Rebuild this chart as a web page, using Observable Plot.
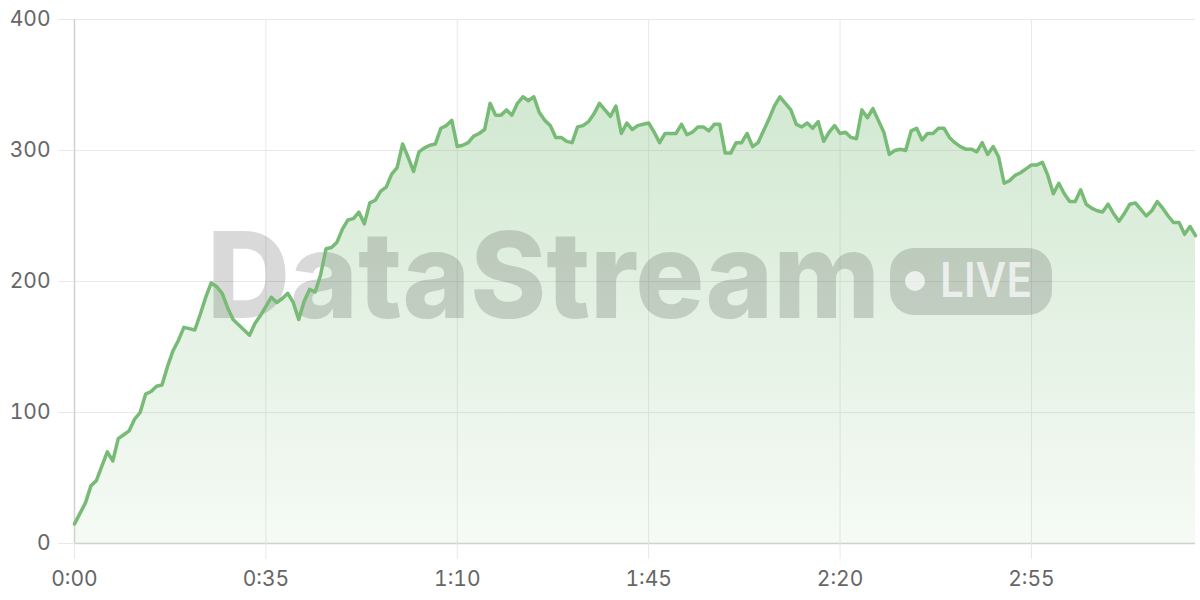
<!DOCTYPE html>
<html>
<head>
<meta charset="utf-8">
<script src="https://cdn.jsdelivr.net/npm/d3@7"></script>
<script src="https://cdn.jsdelivr.net/npm/@observablehq/plot@0.6"></script>
<style>
  html, body { margin: 0; padding: 0; background: #ffffff; }
  #chart { width: 1200px; height: 600px; }
</style>
</head>
<body>
<div id="chart"></div>
<script>
// Values per second (t = index, 0..205)
const values = [
  15, 23, 31, 44, 48, 59, 70, 63, 80, 83,
  86, 95, 100, 114, 116, 120, 121, 135, 147, 155,
  165, 164, 163, 175, 188, 199, 196, 191, 180, 171,
  167, 163, 159, 168, 174, 181, 188, 184, 187, 191,
  184, 171, 185, 194, 192, 205, 225, 226, 230, 240,
  247, 248, 253, 244, 260, 262, 269, 272, 282, 287,
  305, 295, 284, 299, 302, 304, 305, 317, 319, 323,
  303, 304, 306, 311, 313, 316, 336, 327, 327, 331,
  327, 336, 341, 338, 341, 329, 323, 319, 310, 310,
  307, 306, 318, 319, 322, 328, 336, 331, 326, 334,
  313, 321, 316, 319, 320, 321, 314, 306, 313, 313,
  313, 320, 312, 314, 318, 318, 315, 320, 320, 298,
  298, 306, 306, 313, 303, 306, 315, 324, 334, 341,
  336, 331, 320, 318, 321, 317, 322, 307, 314, 319,
  313, 314, 310, 309, 331, 325, 332, 323, 314, 297,
  300, 301, 300, 315, 317, 308, 313, 313, 317, 317,
  310, 306, 303, 301, 301, 299, 306, 297, 303, 295,
  275, 277, 281, 283, 286, 289, 289, 291, 281, 267,
  275, 267, 261, 261, 270, 259, 256, 254, 253, 259,
  252, 246, 252, 259, 260, 255, 250, 254, 261, 256,
  250, 245, 245, 236, 242, 235
];
const xTicks = [0, 35, 70, 105, 140, 175];
const xTickLabels = ["0:00", "0:35", "1:10", "1:45", "2:20", "2:55"];
const yTicks = [0, 100, 200, 300, 400];
const watermarkTitle = "DataStream";
const watermarkBadge = "LIVE";

const data = values.map((v, i) => ({t: i, v}));

const lineColor = "#78bb76";
const fontFamily = "Inter, 'Noto Sans', sans-serif";

const defs = () => {
  const g = d3.create("svg:defs");
  const grad = g.append("linearGradient")
    .attr("id", "areaGrad").attr("x1", 0).attr("y1", 0).attr("x2", 0).attr("y2", 1);
  grad.append("stop").attr("offset", "0%").attr("stop-color", lineColor).attr("stop-opacity", 0.33);
  grad.append("stop").attr("offset", "100%").attr("stop-color", lineColor).attr("stop-opacity", 0.07);
  return g.node();
};

const watermark = () => {
  const g = d3.create("svg:g").attr("pointer-events", "none").attr("text-anchor", "start");
  g.append("text")
    .attr("x", 207).attr("y", 318)
    .attr("text-anchor", "start")
    .attr("font-family", "Inter, sans-serif")
    .attr("font-weight", 800)
    .attr("font-size", 120)
    .attr("textLength", 673)
    .attr("lengthAdjust", "spacingAndGlyphs")
    .attr("fill", "#000").attr("fill-opacity", 0.15)
    .text(watermarkTitle);
  g.append("rect")
    .attr("x", 890).attr("y", 248).attr("width", 162).attr("height", 67).attr("rx", 24)
    .attr("fill", "#000").attr("fill-opacity", 0.15);
  g.append("circle")
    .attr("cx", 915).attr("cy", 281).attr("r", 10)
    .attr("fill", "#fff").attr("fill-opacity", 0.7);
  g.append("text")
    .attr("x", 940).attr("y", 297)
    .attr("text-anchor", "start")
    .attr("font-family", "Inter, sans-serif")
    .attr("font-weight", 600)
    .attr("font-size", 48)
    .attr("textLength", 92)
    .attr("lengthAdjust", "spacingAndGlyphs")
    .attr("fill", "#fff").attr("fill-opacity", 0.7)
    .text(watermarkBadge);
  return g.node();
};

const chart = Plot.plot({
  width: 1200,
  height: 600,
  marginLeft: 74,
  marginRight: 5,
  marginTop: 19,
  marginBottom: 57,
  style: {fontFamily, fontSize: "21px", color: "#666", background: "#fff"},
  x: {domain: [0, 205], label: null},
  y: {domain: [0, 400], label: null},
  marks: [
    defs,
    Plot.gridY(yTicks.filter(d => d > 0), {stroke: "#e8e8e8", strokeOpacity: 1}),
    Plot.gridX(xTicks, {stroke: "#e8e8e8", strokeOpacity: 1}),
    Plot.areaY(data, {x: "t", y: "v", fill: "url(#areaGrad)"}),
    watermark,
    Plot.ruleX([0], {stroke: "#d0d0d0", strokeWidth: 1.5}),
    Plot.ruleY([0], {stroke: "#d0d0d0", strokeWidth: 1.5}),
    Plot.lineY(data, {x: "t", y: "v", stroke: lineColor, strokeWidth: 3.5, strokeLinejoin: "round"}),
    Plot.axisY({ticks: yTicks, label: null, tickSize: 16, tickPadding: 8, stroke: "#e8e8e8", fill: "#666", fontSize: 21}),
    Plot.axisX({ticks: xTicks, label: null, tickFormat: (d) => xTickLabels[xTicks.indexOf(d)], tickSize: 16, tickPadding: 12, stroke: "#e8e8e8", fill: "#666", fontSize: 21})
  ]
});

document.getElementById("chart").appendChild(chart);
</script>
</body>
</html>
